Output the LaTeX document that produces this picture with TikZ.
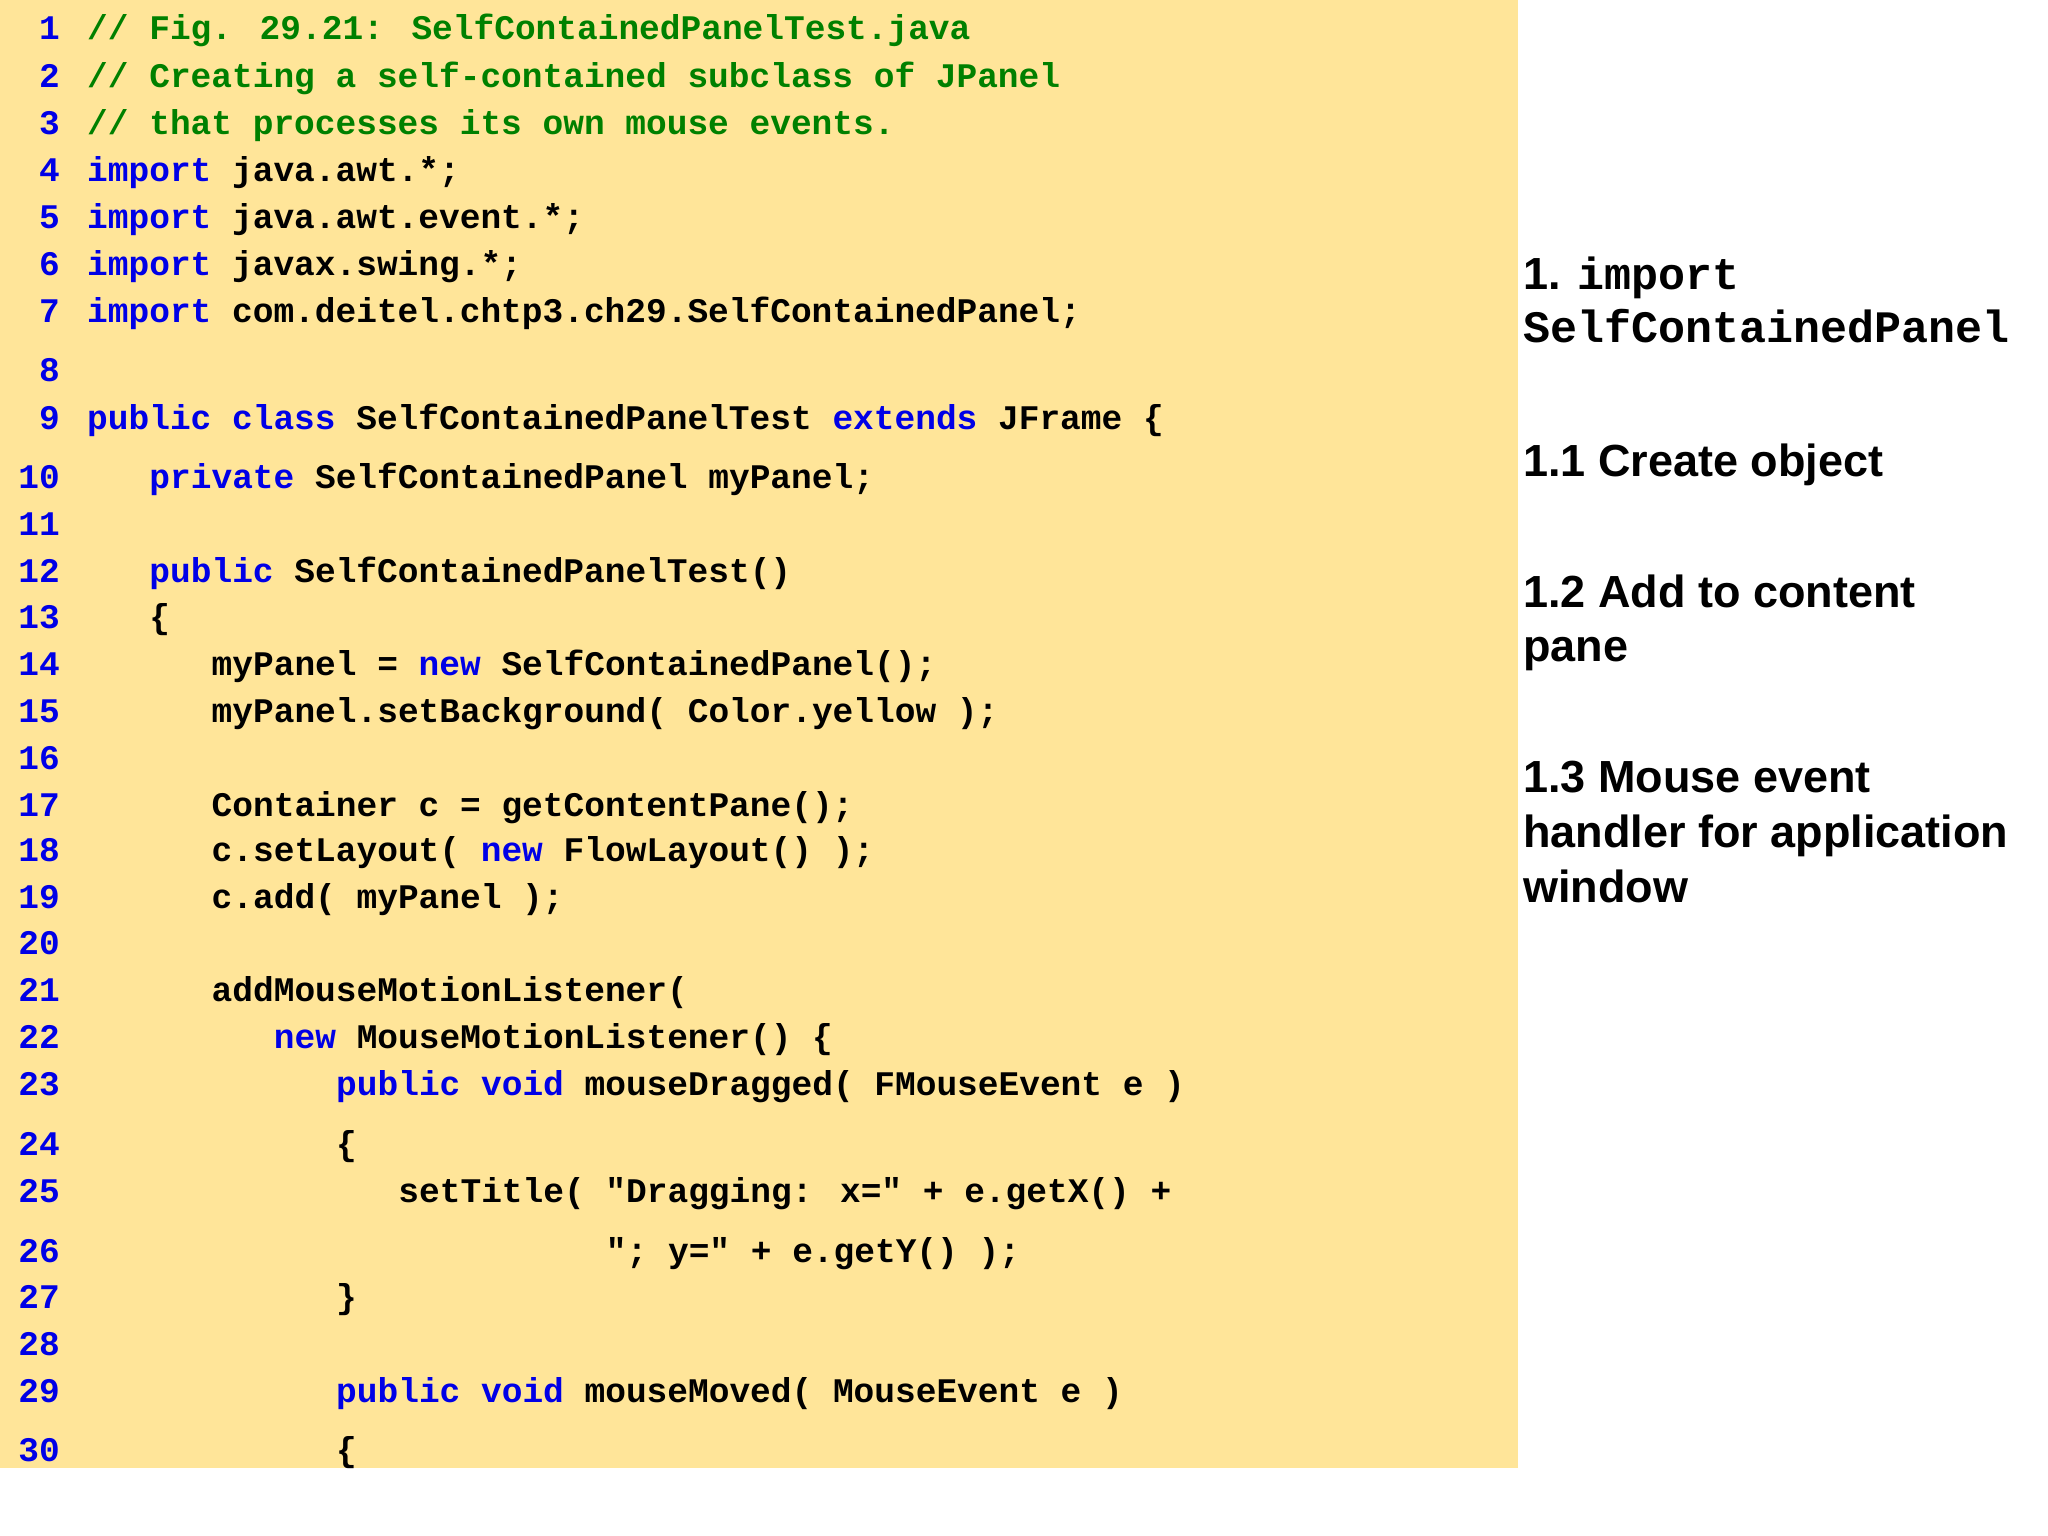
\documentclass[tikz,border=0pt]{standalone}
\usepackage{fontspec}
\setmainfont{Liberation Sans}
\newfontfamily\codefont{Liberation Mono}
\definecolor{bgy}{RGB}{255,229,153}
\definecolor{kw}{RGB}{0,0,230}
\definecolor{cm}{RGB}{0,128,0}
\newcommand{\K}[1]{\textcolor{kw}{#1}}
\newcommand{\C}[1]{\textcolor{cm}{#1}}
\begin{document}
\begin{tikzpicture}[x=1pt,y=-1pt,
  code/.style={anchor=base west,inner sep=0pt,font=\codefont\bfseries\fontsize{34.5}{40}\selectfont},
  num/.style={anchor=base east,inner sep=0pt,text=kw,font=\codefont\bfseries\fontsize{34.5}{40}\selectfont},
  note/.style={anchor=base west,inner sep=0pt,font=\bfseries\fontsize{45}{55}\selectfont}]
\useasboundingbox (0,0) rectangle (2048,1536);
\fill[bgy] (0,0) rectangle (1518,1468);
\newcommand{\codeline}[4]{\node[num] (n#1) at (60,#2) {#1};\node[code] (c#1) at (87+#3*20.75,#2) {#4};}
\codeline{1}{40}{0}{\C{// Fig. 29.21: SelfContainedPanelTest.java}}
\codeline{2}{88}{0}{\C{// Creating a self-contained subclass of JPanel}}
\codeline{3}{135}{0}{\C{// that processes its own mouse events.}}
\codeline{4}{182}{0}{\K{import} java.awt.*;}
\codeline{5}{228}{0}{\K{import} java.awt.event.*;}
\codeline{6}{275}{0}{\K{import} javax.swing.*;}
\codeline{7}{322}{0}{\K{import} com.deitel.chtp3.ch29.SelfContainedPanel;}
\codeline{8}{381}{0}{}
\codeline{9}{429}{0}{\K{public class} SelfContainedPanelTest \K{extends} JFrame \{}
\codeline{10}{488}{3}{\K{private} SelfContainedPanel myPanel;}
\codeline{11}{535}{0}{}
\codeline{12}{582}{3}{\K{public} SelfContainedPanelTest()}
\codeline{13}{628}{3}{\{}
\codeline{14}{675}{6}{myPanel = \K{new} SelfContainedPanel();}
\codeline{15}{722}{6}{myPanel.setBackground( Color.yellow );}
\codeline{16}{769}{0}{}
\codeline{17}{816}{6}{Container c = getContentPane();}
\codeline{18}{861}{6}{c.setLayout( \K{new} FlowLayout() );}
\codeline{19}{908}{6}{c.add( myPanel );}
\codeline{20}{954}{0}{}
\codeline{21}{1001}{6}{addMouseMotionListener(}
\codeline{22}{1048}{9}{\K{new} MouseMotionListener() \{}
\codeline{23}{1095}{12}{\K{public void} mouseDragged( FMouseEvent e )}
\codeline{24}{1155}{12}{\{}
\codeline{25}{1202}{15}{setTitle( "Dragging: x=" + e.getX() +}
\codeline{26}{1262}{25}{"; y=" + e.getY() );}
\codeline{27}{1308}{12}{\}}
\codeline{28}{1355}{0}{}
\codeline{29}{1402}{12}{\K{public void} mouseMoved( MouseEvent e )}
\codeline{30}{1461}{12}{\{}
\node[note] (t1) at (1523,289) {1. {\codefont import}};
\node[note] (t1b) at (1523,342) {\codefont SelfContainedPanel};
\node[note] (t2) at (1523,476) {1.1 Create object};
\node[note] (t3) at (1523,607) {1.2 Add to content};
\node[note] (t3b) at (1523,661) {pane};
\node[note] (t4) at (1523,792) {1.3 Mouse event};
\node[note] (t4b) at (1523,847) {handler for application};
\node[note] (t4c) at (1523,902) {window};
\end{tikzpicture}
\end{document}
